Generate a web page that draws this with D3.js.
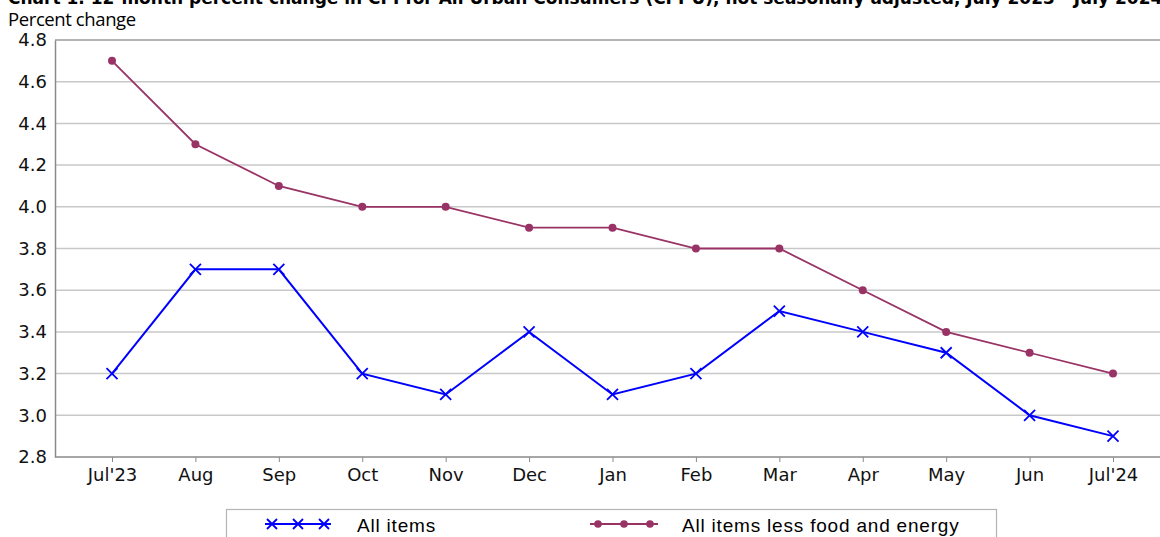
<!DOCTYPE html>
<html>
<head>
<meta charset="utf-8">
<script src="https://cdn.jsdelivr.net/npm/d3@7"></script>
<style>
  body { margin: 0; background: #fff; }
  svg { display: block; }
</style>
</head>
<body>
<div id="chart"></div>
<script>
const months = ["Jul'23", "Aug", "Sep", "Oct", "Nov", "Dec", "Jan", "Feb", "Mar", "Apr", "May", "Jun", "Jul'24"];
const allItems = [3.2, 3.7, 3.7, 3.2, 3.1, 3.4, 3.1, 3.2, 3.5, 3.4, 3.3, 3.0, 2.9];
const coreItems = [4.7, 4.3, 4.1, 4.0, 4.0, 3.9, 3.9, 3.8, 3.8, 3.6, 3.4, 3.3, 3.2];
const yTicks = [2.8, 3.0, 3.2, 3.4, 3.6, 3.8, 4.0, 4.2, 4.4, 4.6, 4.8];
const seriesNames = ["All items", "All items less food and energy"];

const width = 1160, height = 537;
const margin = { top: 40, right: -40, bottom: 80, left: 55 };
const innerW = width - margin.left - margin.right;
const innerH = height - margin.top - margin.bottom;

const svg = d3.select("#chart")
    .append("svg")
    .attr("width", width)
    .attr("height", height);

// title, partly cut off at the top like the original
svg.append("text")
    .attr("x", 8)
    .attr("y", 4)
    .style("font-family", "DejaVu Sans")
    .style("font-weight", "bold")
    .style("font-size", "17px")
    .text("Chart 1. 12-month percent change in CPI for All Urban Consumers (CPI-U), not seasonally adjusted, July 2023 - July 2024");

svg.append("text")
    .attr("x", 8)
    .attr("y", 26)
    .style("font-family", "Open Sans")
    .style("font-size", "18.5px")
    .style("letter-spacing", "-0.4px")
    .text("Percent change");

const g = svg.append("g")
    .attr("transform", `translate(${margin.left}, ${margin.top})`);

const x = d3.scalePoint()
    .domain(months)
    .range([57, 1058]);

const y = d3.scaleLinear()
    .domain([2.8, 4.8])
    .range([innerH, 0]);

// grid
g.selectAll(".grid")
    .data(yTicks.slice(1, -1))
    .enter()
    .append("line")
    .attr("class", "grid")
    .attr("x1", 0)
    .attr("x2", innerW)
    .attr("y1", d => y(d))
    .attr("y2", d => y(d))
    .style("stroke", "#c8c8c8")
    .style("stroke-width", 1.5);

g.append("line")
    .attr("x1", 0).attr("x2", innerW)
    .attr("y1", y(4.8)).attr("y2", y(4.8))
    .style("stroke", "#9a9a9a")
    .style("stroke-width", 1.5);

const yAxis = d3.axisLeft(y)
    .tickValues(yTicks)
    .tickFormat(d3.format(".1f"))
    .tickSize(0)
    .tickPadding(8);

const yg = g.append("g").call(yAxis);
yg.select(".domain").style("stroke", "#8a8a8a").style("stroke-width", 1.5);
yg.selectAll("text")
    .style("font-family", "DejaVu Sans")
    .style("font-size", "18px")
    .style("fill", "#111");

const xAxis = d3.axisBottom(x)
    .tickSize(5)
    .tickSizeOuter(0)
    .tickPadding(6);

const xg = g.append("g")
    .attr("transform", `translate(0, ${innerH})`)
    .call(xAxis);
xg.select(".domain")
    .attr("d", `M0,0H${innerW}`)
    .style("stroke", "#8a8a8a")
    .style("stroke-width", 1.5);
xg.selectAll(".tick line").style("stroke", "#8a8a8a");
xg.selectAll("text")
    .style("font-family", "DejaVu Sans")
    .style("font-size", "18px")
    .style("fill", "#111");

const line = d3.line()
    .x((d, i) => x(months[i]))
    .y(d => y(d));

const blue = "#0000ff";
const plum = "#993366";

// core series
g.append("path")
    .attr("d", line(coreItems))
    .style("fill", "none")
    .style("stroke", plum)
    .style("stroke-width", 1.8);

g.selectAll(".core-dot")
    .data(coreItems)
    .enter()
    .append("circle")
    .attr("class", "core-dot")
    .attr("cx", (d, i) => x(months[i]))
    .attr("cy", d => y(d))
    .attr("r", 4)
    .style("fill", plum);

// all items series
g.append("path")
    .attr("d", line(allItems))
    .style("fill", "none")
    .style("stroke", blue)
    .style("stroke-width", 2);

function cross(sel, s) {
    sel.append("path")
        .attr("d", `M${-s},${-s}L${s},${s}M${-s},${s}L${s},${-s}`)
        .style("stroke", blue)
        .style("stroke-width", 1.8)
        .style("fill", "none");
}

g.selectAll(".all-mark")
    .data(allItems)
    .enter()
    .append("g")
    .attr("class", "all-mark")
    .attr("transform", (d, i) => `translate(${x(months[i])}, ${y(d)})`)
    .call(cross, 5.5);

// legend
const legend = svg.append("g");
legend.append("rect")
    .attr("x", 226.5)
    .attr("y", 509.5)
    .attr("width", 770)
    .attr("height", 40)
    .style("fill", "#fff")
    .style("stroke", "#b4b4b4")
    .style("stroke-width", 1.2);

const ly = 524;
legend.append("line")
    .attr("x1", 265).attr("x2", 331)
    .attr("y1", ly).attr("y2", ly)
    .style("stroke", blue).style("stroke-width", 2);
[272, 298, 324].forEach(cx => {
    legend.append("g")
        .attr("transform", `translate(${cx}, ${ly})`)
        .call(cross, 5);
});
legend.append("text")
    .attr("x", 357)
    .attr("y", ly + 8)
    .style("font-family", "Liberation Sans")
    .style("font-size", "19px")
    .style("letter-spacing", "0.8px")
    .text(seriesNames[0]);

legend.append("line")
    .attr("x1", 590).attr("x2", 658)
    .attr("y1", ly).attr("y2", ly)
    .style("stroke", plum).style("stroke-width", 1.8);
[598, 624, 650].forEach(cx => {
    legend.append("circle")
        .attr("cx", cx).attr("cy", ly).attr("r", 3.8)
        .style("fill", plum);
});
legend.append("text")
    .attr("x", 682)
    .attr("y", ly + 8)
    .style("font-family", "Liberation Sans")
    .style("font-size", "19px")
    .style("letter-spacing", "0.8px")
    .text(seriesNames[1]);
</script>
</body>
</html>
